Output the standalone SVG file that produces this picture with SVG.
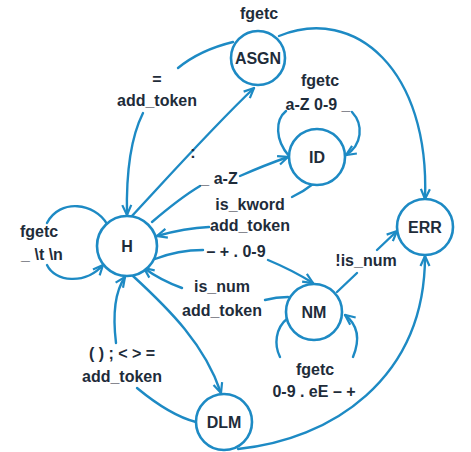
<svg xmlns="http://www.w3.org/2000/svg" width="471" height="452" viewBox="0 0 471 452">
<defs>
<marker id="arr" markerUnits="userSpaceOnUse" viewBox="0 0 12 12" refX="11" refY="6" markerWidth="12" markerHeight="12" orient="auto">
<path d="M1,1.5 L11,6 L1,10.5" fill="none" stroke="#1d8ac4" stroke-width="2.2" stroke-linejoin="miter"/>
</marker>
<style>
.n{fill:#fff;stroke:#1d8ac4;stroke-width:2.6}
.e{fill:none;stroke:#1d8ac4;stroke-width:2.4;stroke-linecap:round}
.a{marker-end:url(#arr)}
text{font-family:"Liberation Sans",Arial,sans-serif;font-weight:bold;font-size:16px;fill:#1e2c3a;text-anchor:middle}
</style>
</defs>
<rect width="471" height="452" fill="#fff"/>
<g id="connectors">
<!-- ASGN -> ERR -->
<path class="e a" d="M279,36 C355,5 430,70 425,199"/>
<!-- DLM -> ERR -->
<path class="e a" d="M238,449 C330,440 425,380 425,256"/>
<!-- H -> ASGN : -->
<path class="e a" d="M131,217 C170,175 215,125 254,88"/>
<!-- ASGN -> H = add_token -->
<path class="e" d="M233,42 Q200,50 178,68"/>
<path class="e a" d="M143,113 C132,135 126,170 127,215"/>
<!-- H -> ID -->
<path class="e" d="M152,222 Q180,198 200,186"/>
<path class="e a" d="M240,176 Q265,165 288,157"/>
<!-- ID -> H -->
<path class="e" d="M313,184 Q303,192 292,197"/>
<path class="e a" d="M209,227 Q185,228 157,236"/>
<!-- H -> NM -->
<path class="e" d="M155,259 Q178,250 203,250"/>
<path class="e a" d="M268,260 Q292,270 313,283"/>
<!-- NM -> H -->
<path class="e" d="M265,300 Q276,297 288,297"/>
<path class="e a" d="M182,288 Q160,280 144,268"/>
<!-- H -> DLM -->
<path class="e a" d="M133,276 C170,310 205,345 221,393"/>
<!-- DLM -> H -->
<path class="e" d="M196,422 C180,418 160,407 137,388"/>
<path class="e a" d="M116,343 C112,310 116,290 125,277"/>
<!-- H self loop -->
<path class="e" d="M107,224 C95,203 60,198 47,223"/>
<path class="e a" d="M47,265 C55,282 85,285 103,265"/>
<!-- ID self loop -->
<path class="e" d="M289,156 C275,140 275,120 286,111"/>
<path class="e a" d="M352,112 C364,125 362,145 346,155"/>
<!-- NM self loop -->
<path class="e" d="M288,318 C275,328 274,345 280,357"/>
<path class="e a" d="M353,357 C360,340 358,325 345,315"/>
<!-- NM -> ERR -->
<path class="e" d="M337,292 L357,273"/>
<path class="e a" d="M377,250 L397,231"/>
</g>
<g id="node-H"><circle class="n" cx="127" cy="246" r="30"/><text x="127" y="252">H</text></g>
<g id="node-ASGN"><circle class="n" cx="258" cy="58" r="27"/><text x="258" y="64">ASGN</text></g>
<g id="node-ID"><circle class="n" cx="317" cy="157" r="28"/><text x="317" y="163">ID</text></g>
<g id="node-NM"><circle class="n" cx="314" cy="312" r="28"/><text x="314" y="318">NM</text></g>
<g id="node-ERR"><circle class="n" cx="425" cy="227" r="28"/><text x="425" y="233">ERR</text></g>
<g id="node-DLM"><circle class="n" cx="224" cy="422" r="28"/><text x="224" y="428">DLM</text></g>
<g id="labels">
<text x="259" y="19">fgetc</text>
<text x="157" y="85">=</text>
<text x="157" y="106">add_token</text>
<text x="193" y="158">:</text>
<text x="320" y="86">fgetc</text>
<text x="318" y="110">a-Z 0-9 _</text>
<text x="219" y="184">_ a-Z</text>
<text x="250" y="210">is_kword</text>
<text x="250" y="231">add_token</text>
<text x="236" y="257">– + . 0-9</text>
<text x="222" y="292">is_num</text>
<text x="222" y="316">add_token</text>
<text x="366" y="266">!is_num</text>
<text x="315" y="375">fgetc</text>
<text x="314" y="397">0-9 . eE – +</text>
<text x="122" y="359">( ) ; &lt; &gt; =</text>
<text x="122" y="382">add_token</text>
<text x="39" y="237">fgetc</text>
<text x="42" y="260">_ \t \n</text>
</g>
</svg>
